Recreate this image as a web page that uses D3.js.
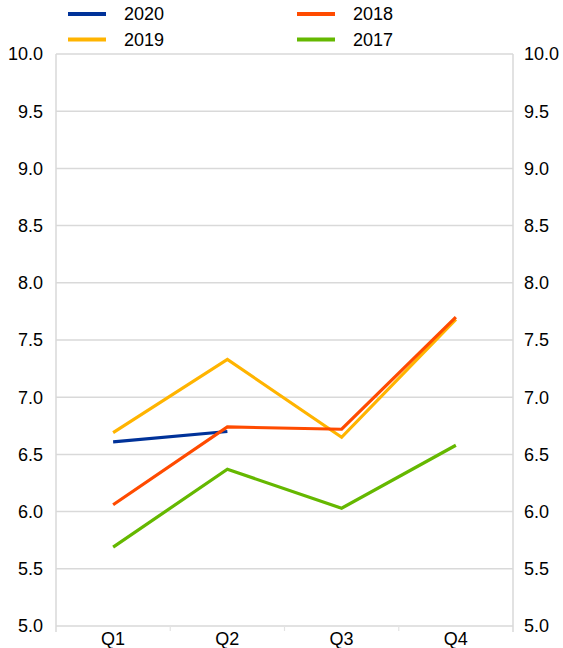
<!DOCTYPE html>
<html><head><meta charset="utf-8">
<script src="https://cdn.jsdelivr.net/npm/d3@7"></script>
<style>body{margin:0;background:#fff}svg{display:block}text{font-family:"Liberation Sans",Arial,sans-serif}</style>
</head><body>
<svg id="c" width="563" height="648"></svg>
<script>
const categories = ["Q1","Q2","Q3","Q4"];
const seriesNames = ["2020","2019","2018","2017"];
const seriesColors = ["#003299","#FFB400","#FF4B00","#65B800"];
const v2020 = [6.61, 6.70, null, null];
const v2019 = [6.69, 7.33, 6.65, 7.68];
const v2018 = [6.06, 6.74, 6.72, 7.70];
const v2017 = [5.69, 6.37, 6.03, 6.58];
const yTicks = [5.0,5.5,6.0,6.5,7.0,7.5,8.0,8.5,9.0,9.5,10.0];
const seriesValues = [v2020, v2019, v2018, v2017];

const svg = d3.select("#c");
const L = 56, R = 513, T = 54, B = 626;
const x = d3.scaleBand().domain(categories).range([L, R]);
const y = d3.scaleLinear().domain([5, 10]).range([B, T]);

// gridlines
svg.append("g").selectAll("line").data(yTicks).join("line")
  .attr("x1", L).attr("x2", R).attr("y1", d => y(d)).attr("y2", d => y(d))
  .attr("stroke", "#d9d9d9").attr("stroke-width", 1.5);
// side borders
[L, R].forEach(px => svg.append("line").attr("x1", px).attr("x2", px).attr("y1", T).attr("y2", B + 6)
  .attr("stroke", "#d9d9d9").attr("stroke-width", 1.5));
// category ticks
svg.append("g").selectAll("line").data(categories.slice(1)).join("line")
  .attr("x1", d => x(d)).attr("x2", d => x(d)).attr("y1", B).attr("y2", B + 5)
  .attr("stroke", "#e3e3e3").attr("stroke-width", 1.2);

// y labels
const fmt = d3.format(".1f");
svg.append("g").selectAll("text").data(yTicks).join("text")
  .attr("x", 43).attr("y", d => y(d)).attr("dy", "0.35em").attr("text-anchor", "end")
  .attr("font-size", 18).attr("fill", "#000").text(fmt);
svg.append("g").selectAll("text").data(yTicks).join("text")
  .attr("x", 524).attr("y", d => y(d)).attr("dy", "0.35em").attr("text-anchor", "start")
  .attr("font-size", 18).attr("fill", "#000").text(fmt);
// x labels
svg.append("g").selectAll("text").data(categories).join("text")
  .attr("x", d => x(d) + x.bandwidth() / 2).attr("y", 645).attr("text-anchor", "middle")
  .attr("font-size", 18).attr("fill", "#000").text(d => d);

// lines
const line = d3.line().defined(d => d.v != null)
  .x(d => x(d.c) + x.bandwidth() / 2).y(d => y(d.v));
seriesValues.forEach((vals, i) => {
  svg.append("path").datum(categories.map((c, j) => ({c, v: vals[j]})))
    .attr("d", line).attr("fill", "none").attr("stroke", seriesColors[i])
    .attr("stroke-width", 3.2).attr("stroke-linejoin", "miter");
});

// legend
const legPos = [[68, 14], [68, 39.5], [297, 14], [297, 39.5]];
seriesNames.forEach((n, i) => {
  const [lx, ly] = legPos[i];
  svg.append("line").attr("x1", lx).attr("x2", lx + 38).attr("y1", ly).attr("y2", ly)
    .attr("stroke", seriesColors[i]).attr("stroke-width", 4);
  svg.append("text").attr("x", lx + 56).attr("y", ly).attr("dy", "0.35em")
    .attr("font-size", 18).attr("fill", "#000").text(n);
});
</script>
</body></html>
